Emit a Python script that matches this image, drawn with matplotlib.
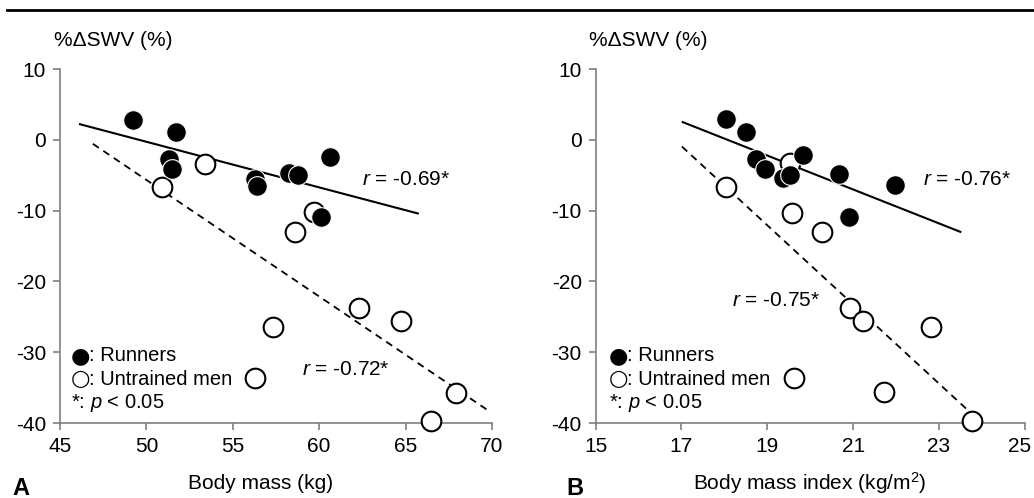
import numpy as np
import matplotlib.pyplot as plt
from matplotlib.transforms import ScaledTranslation

plt.rcParams['font.family'] = ['Liberation Sans', 'DejaVu Sans']
plt.rcParams['mathtext.fontset'] = 'custom'
plt.rcParams['mathtext.it'] = 'Liberation Sans:italic'
plt.rcParams['mathtext.rm'] = 'Liberation Sans'
plt.rcParams['axes.unicode_minus'] = False

# panel A: body mass (kg)
mass_run = [49.2, 51.7, 51.3, 51.5, 56.3, 56.4, 58.25, 58.8, 60.65, 60.1]
swv_run_a = [2.8, 1.1, -2.7, -4.1, -5.5, -6.5, -4.7, -4.9, -2.4, -10.9]
mass_unt = [53.4, 50.9, 59.7, 58.6, 62.3, 64.75, 57.3, 56.3, 67.9, 66.5]
swv_unt = [-3.4, -6.7, -10.2, -13.0, -23.8, -25.6, -26.4, -33.7, -35.7, -39.7]

# panel B: body mass index (kg/m2)
bmi_run = [18.04, 18.5, 18.73, 18.95, 19.36, 19.52, 19.83, 20.66, 21.98, 20.9]
swv_run_b = [2.9, 1.1, -2.7, -4.1, -5.4, -4.9, -2.2, -4.8, -6.4, -10.9]
bmi_unt = [19.54, 18.03, 19.58, 20.28, 20.92, 21.23, 22.82, 19.62, 21.71, 23.77]
swv_unt_b = [-3.3, -6.7, -10.4, -13.0, -23.8, -25.6, -26.5, -33.7, -35.6, -39.7]

# regression lines (endpoints)
fit_a_run = ([46.16, 65.71], [2.2, -10.4])
fit_a_unt = ([46.9, 69.76], [-0.56, -38.2])
fit_b_run = ([17.03, 23.5], [2.5, -13.0])
fit_b_unt = ([17.01, 23.73], [-0.95, -38.5])

r_labels_a = ['-0.69*', '-0.72*']
r_labels_b = ['-0.76*', '-0.75*']

fig = plt.figure(figsize=(10.34, 4.98), dpi=100)
axA = fig.add_axes([0.058, 0.1506, 0.4178, 0.7108])
axB = fig.add_axes([0.5761, 0.1506, 0.4149, 0.7108])

fs = 15
grey = '#7f7f7f'

def draw(ax, xr, yr, xu, yu, fr, fu, xlim, xticks):
    ax.plot(fr[0], fr[1], color='black', lw=1.5, zorder=2)
    ax.plot(fu[0], fu[1], color='black', lw=1.3, ls=(0, (4, 3)), zorder=2)
    ax.scatter(xu, yu, s=200, facecolor='white', edgecolor='black', lw=1.5, zorder=3, clip_on=False)
    ax.scatter(xr, yr, s=200, facecolor='black', edgecolor='white', lw=0.8, zorder=4, clip_on=False)
    ax.set_xlim(*xlim)
    ax.set_ylim(-40, 10)
    ax.set_xticks(xticks)
    ax.set_yticks([-40, -30, -20, -10, 0, 10])
    for s in ['top', 'right']:
        ax.spines[s].set_visible(False)
    for s in ['left', 'bottom']:
        ax.spines[s].set_color(grey)
        ax.spines[s].set_linewidth(1.2)
    ax.tick_params(direction='out', length=5, width=1.2, color=grey, labelsize=fs, pad=5)

draw(axA, mass_run, swv_run_a, mass_unt, swv_unt, fit_a_run, fit_a_unt, (45, 70), [45, 50, 55, 60, 65, 70])
draw(axB, bmi_run, swv_run_b, bmi_unt, swv_unt_b, fit_b_run, fit_b_unt, (15, 25), [15, 17, 19, 21, 23, 25])

# keep the last tick label of panel B inside the figure
last = axB.get_xticklabels()[-1]
last.set_transform(last.get_transform() + ScaledTranslation(-5 / 100, 0, fig.dpi_scale_trans))

axA.text(62.5, -5.6, r'$r$ = ' + r_labels_a[0], fontsize=fs, va='center')
axA.text(59.0, -32.5, r'$r$ = ' + r_labels_a[1], fontsize=fs, va='center')
axB.text(22.63, -5.6, r'$r$ = ' + r_labels_b[0], fontsize=fs, va='center')
axB.text(18.18, -22.7, r'$r$ = ' + r_labels_b[1], fontsize=fs, va='center')

legend_rows = [('\u25cf', ': Runners', -30.5), ('\u25cb', ': Untrained men', -33.8)]
for ax, x0 in [(axA, 45.65), (axB, 15.3)]:
    for sym, lab, yv in legend_rows:
        ax.text(x0, yv, sym, fontsize=fs + 1, family='DejaVu Sans', va='center')
        ax.annotate(lab, (x0, yv), xytext=(13, 0), textcoords='offset points',
                    fontsize=fs - 0.5, va='center')
    ax.text(x0, -37.2, r'*: $p$ < 0.05', fontsize=fs - 0.5, va='center')

fig.text(54 / 1034, 1 - 41 / 498, '%\u0394SWV (%)', fontsize=fs, va='center')
fig.text(589 / 1034, 1 - 41 / 498, '%\u0394SWV (%)', fontsize=fs, va='center')
fig.text(261 / 1034, 1 - 483 / 498, 'Body mass (kg)', fontsize=fs, ha='center', va='center')
fig.text(810 / 1034, 1 - 483 / 498, 'Body mass index (kg/m$^2$)', fontsize=fs, ha='center', va='center')
fig.text(12 / 1034, 1 - 488 / 498, 'A', fontsize=17, fontweight='bold', va='center')
fig.text(566 / 1034, 1 - 488 / 498, 'B', fontsize=17, fontweight='bold', va='center')

fig.add_artist(plt.Line2D([7 / 1034, 1], [1 - 10 / 498] * 2, color='black', lw=2))

fig.savefig('out.png', dpi=100)
